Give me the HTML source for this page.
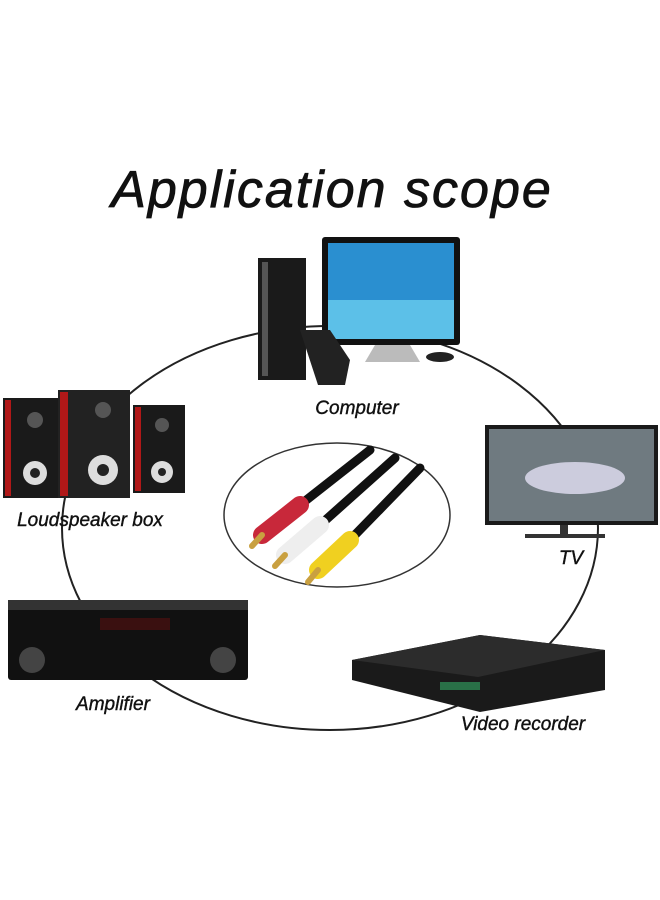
<!DOCTYPE html>
<html><head><meta charset="utf-8"><style>
html,body{margin:0;padding:0;background:#fff;width:660px;height:900px;overflow:hidden}
svg text{font-family:"Liberation Sans",sans-serif;font-style:italic;fill:#111}
</style></head><body>
<svg width="660" height="900" viewBox="0 0 660 900" xmlns="http://www.w3.org/2000/svg">
<rect width="660" height="900" fill="#fff"/>
<text x="332" y="207" font-size="52" text-anchor="middle" letter-spacing="2" stroke="#111" stroke-width="0.8">Application scope</text>
<ellipse cx="330" cy="528" rx="268" ry="202" fill="none" stroke="#222" stroke-width="2"/>
<ellipse cx="337" cy="515" rx="113" ry="72" fill="#fff" stroke="#333" stroke-width="1.5"/>
<!-- computer -->
<rect x="258" y="258" width="48" height="122" fill="#1a1a1a"/>
<rect x="262" y="262" width="6" height="114" fill="#555"/>
<rect x="322" y="237" width="138" height="108" rx="3" fill="#111"/>
<rect x="328" y="243" width="126" height="96" fill="#2a8fd0"/>
<rect x="328" y="300" width="126" height="39" fill="#5cc0e8"/>
<polygon points="375,345 410,345 420,362 365,362" fill="#bbb"/>
<polygon points="300,330 330,330 350,360 345,385 318,385" fill="#222"/>
<ellipse cx="440" cy="357" rx="14" ry="5" fill="#222"/>
<!-- speakers -->
<rect x="3" y="398" width="55" height="100" fill="#1a1a1a"/>
<rect x="58" y="390" width="72" height="108" fill="#222"/>
<rect x="133" y="405" width="52" height="88" fill="#1a1a1a"/>
<rect x="5" y="400" width="6" height="96" fill="#b01818"/>
<rect x="60" y="392" width="8" height="104" fill="#b01818"/>
<rect x="135" y="407" width="6" height="84" fill="#b01818"/>
<circle cx="35" cy="473" r="12" fill="#ddd"/><circle cx="35" cy="473" r="5" fill="#222"/>
<circle cx="103" cy="470" r="15" fill="#ddd"/><circle cx="103" cy="470" r="6" fill="#222"/>
<circle cx="162" cy="472" r="11" fill="#ddd"/><circle cx="162" cy="472" r="4" fill="#222"/>
<circle cx="35" cy="420" r="8" fill="#555"/><circle cx="103" cy="410" r="8" fill="#555"/><circle cx="162" cy="425" r="7" fill="#555"/>
<!-- TV -->
<rect x="485" y="425" width="173" height="100" fill="#1a1a1a"/>
<rect x="489" y="429" width="165" height="92" fill="#6f7a80"/>
<ellipse cx="575" cy="478" rx="50" ry="16" fill="#ccd"/>
<rect x="560" y="525" width="8" height="10" fill="#333"/>
<rect x="525" y="534" width="80" height="4" fill="#333"/>
<!-- cables -->
<g stroke-linecap="round">
<line x1="370" y1="450" x2="300" y2="505" stroke="#111" stroke-width="9"/>
<line x1="395" y1="458" x2="320" y2="525" stroke="#111" stroke-width="9"/>
<line x1="420" y1="468" x2="350" y2="540" stroke="#111" stroke-width="9"/>
<line x1="300" y1="505" x2="262" y2="535" stroke="#c8283a" stroke-width="18"/>
<line x1="320" y1="525" x2="285" y2="555" stroke="#eee" stroke-width="18"/>
<line x1="350" y1="540" x2="318" y2="570" stroke="#f0d020" stroke-width="18"/>
<line x1="262" y1="535" x2="252" y2="546" stroke="#c9a040" stroke-width="6"/>
<line x1="285" y1="555" x2="275" y2="566" stroke="#c9a040" stroke-width="6"/>
<line x1="318" y1="570" x2="308" y2="582" stroke="#c9a040" stroke-width="6"/>
</g>
<!-- amplifier -->
<rect x="8" y="600" width="240" height="80" rx="3" fill="#111"/>
<rect x="8" y="600" width="240" height="10" fill="#333"/>
<rect x="100" y="618" width="70" height="12" fill="#3a1010"/>
<circle cx="32" cy="660" r="13" fill="#444"/><circle cx="223" cy="660" r="13" fill="#444"/>
<!-- video recorder -->
<polygon points="352,660 480,635 605,650 605,690 480,712 352,680" fill="#1a1a1a"/>
<polygon points="352,660 480,635 605,650 478,677" fill="#2c2c2c"/>
<rect x="440" y="682" width="40" height="8" fill="#3a6" opacity=".6"/>
<!-- labels -->
<g stroke="#111" stroke-width="0.4">
<text x="357" y="414" font-size="19" text-anchor="middle">Computer</text>
<text x="90" y="526" font-size="19" text-anchor="middle">Loudspeaker box</text>
<text x="571" y="564" font-size="19" text-anchor="middle">TV</text>
<text x="113" y="710" font-size="19" text-anchor="middle">Amplifier</text>
<text x="523" y="730" font-size="19" text-anchor="middle">Video recorder</text>
</g>
</svg>
</body></html>
